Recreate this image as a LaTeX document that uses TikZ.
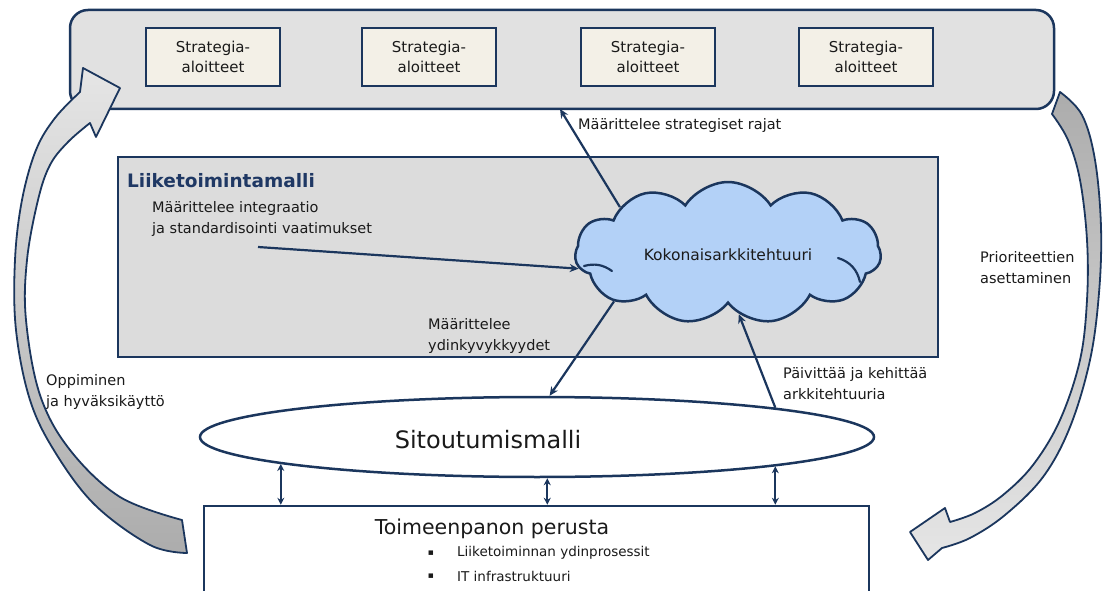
\documentclass[tikz,border=0pt]{standalone}
\usepackage{fontspec}
\setmainfont{DejaVu Sans}
\usetikzlibrary{shapes.geometric,shapes.symbols,arrows.meta}
\definecolor{navy}{HTML}{1B365D}
\definecolor{titleblue}{HTML}{1F3864}
\definecolor{panel}{HTML}{E1E1E1}
\definecolor{midpanel}{HTML}{DCDCDC}
\definecolor{cream}{HTML}{F3F0E7}
\definecolor{skyblue}{HTML}{B3D1F7}
\definecolor{ink}{HTML}{1A1A1A}
\newcommand{\fs}[2]{\fontsize{#1}{#2}\selectfont}
\begin{document}
\begin{tikzpicture}[x=1pt,y=-1pt,
  stbox/.style={draw=navy, line width=2.5pt, fill=cream, minimum width=134pt,
    minimum height=58pt, align=center, inner sep=0pt, text=ink, font=\fs{15}{20}},
  lbl/.style={inner sep=0pt, align=left, text=ink, font=\fs{14.5}{21}},
  conn/.style={draw=navy, line width=2.2pt, -{Stealth[length=9pt,width=8pt]}},
  dbl/.style={draw=navy, line width=2pt,
    {Stealth[length=7pt,width=7pt]}-{Stealth[length=7pt,width=7pt]}},
  blockarrow/.style={draw=navy, line width=1.8pt, line join=round},
  puffline/.style={draw=navy, line width=2.2pt, line cap=round}
]
\useasboundingbox (0,0) rectangle (1104,591);
\clip (0,0) rectangle (1104,591);
\fill[white] (0,0) rectangle (1104,591);

% strategy panel
\node[draw=navy, line width=2.5pt, fill=panel, rounded corners=18pt,
  minimum width=984pt, minimum height=99pt] (tb) at (562,59.5) {};
\node[stbox] (s1) at (213,57) {Strategia-\\aloitteet};
\node[stbox] (s2) at (429,57) {Strategia-\\aloitteet};
\node[stbox] (s3) at (648,57) {Strategia-\\aloitteet};
\node[stbox] (s4) at (866,57) {Strategia-\\aloitteet};

% business model panel
\node[draw=navy, line width=2.5pt, fill=midpanel,
  minimum width=820pt, minimum height=200pt] (bm) at (528,257) {};
\node[anchor=west, inner sep=0pt, text=titleblue, font=\bfseries\fs{18.5}{22}]
  (bmt) at (127,181) {Liiketoimintamalli};
\node[lbl, anchor=north west] (it) at (152,201)
  {Määrittelee integraatio\\ja standardisointi vaatimukset};

% enterprise architecture cloud
\node[cloud, cloud puffs=11, cloud puff arc=115, aspect=2.1, draw=navy,
  fill=skyblue, line width=2.5pt, minimum width=306pt, minimum height=142pt,
  inner sep=0pt] (cl) at (728,253) {};
% inner folds of the cloud outline
\draw[puffline] (584,266) to[bend left=25] (612,271);
\draw[puffline] (838,258) to[bend left=30] (860,282);
\node[inner sep=0pt, text=ink, font=\fs{15.5}{18}] (clt) at (728,255)
  {Kokonaisarkkitehtuuri};

% engagement model
\node[ellipse, draw=navy, line width=2.5pt, fill=white,
  minimum width=674pt, minimum height=80pt, inner sep=0pt] (sm) at (537,437) {};
\node[inner sep=0pt, text=ink, font=\fs{24}{28}] (smt) at (488,440) {Sitoutumismalli};

% foundation for execution
\node[draw=navy, line width=2.5pt, fill=white,
  minimum width=665pt, minimum height=120pt] (fe) at (536.5,566) {};
\node[inner sep=0pt, text=ink, font=\fs{20.5}{24}] (fet) at (492,529) {Toimeenpanon perusta};
\node[inner sep=0pt, text=ink, font=\fs{9}{12}] (b1) at (431,553) {▪};
\node[inner sep=0pt, text=ink, font=\fs{9}{12}] (b2) at (431,576) {▪};
\node[anchor=west, inner sep=0pt, text=ink, font=\fs{13.5}{16}] (l1) at (457,553)
  {Liiketoiminnan ydinprosessit};
\node[anchor=west, inner sep=0pt, text=ink, font=\fs{13.5}{16}] (l2) at (457,576)
  {IT infrastruktuuri};

% connectors
\coordinate (itstart) at (258,247);
\coordinate (srend) at (560,109);
\draw[conn] (itstart) -- (cl.186);
\draw[conn] (cl.157) -- (srend);
\draw[conn] (cl.203) -- (sm.73);
\draw[conn] (sm.7) -- (cl.280);
\draw[dbl] (sm.186) -- (sm.186 |- fe.north);
\draw[dbl] (sm.284) -- (sm.284 |- fe.north);
\draw[dbl] (sm.353.8) -- (sm.353.8 |- fe.north);

\node[lbl, anchor=west] (srl) at (578,126) {Määrittelee strategiset rajat};
\node[lbl, anchor=north west] (ydl) at (428,318) {Määrittelee\\ydinkyvykkyydet};
\node[lbl, anchor=north west] (pvl) at (783,367) {Päivittää ja kehittää\\arkkitehtuuria};
\node[lbl, anchor=north west] (prl) at (980,251) {Prioriteettien\\asettaminen};
\node[lbl, anchor=north west] (opl) at (46,374) {Oppiminen\\ja hyväksikäyttö};

% learning loop arrow (left)
\draw[blockarrow, top color=gray!20, bottom color=gray!65]
  plot[smooth, tension=0.6] coordinates {(187,553) (150,545) (95,505) (55,452)
    (30,400) (16,330) (15,260) (22,200) (36,150) (55,118) (80,92)}
  -- (83,68) -- (120,88) -- (96,137) --
  plot[smooth, tension=0.6] coordinates {(90,123) (68,142) (50,165) (38,200)
    (27,260) (26,320) (40,395) (70,450) (120,497) (182,520)}
  -- cycle;

% prioritisation arrow (right)
\draw[blockarrow, top color=gray!65, bottom color=gray!20]
  plot[smooth, tension=0.6] coordinates {(1060,92) (1082,115) (1095,160)
    (1101,227) (1099,293) (1090,360) (1070,427) (1043,477) (1005,515)
    (970,538) (942,548)}
  -- (928,560) -- (910,532) -- (945,508) --
  plot[smooth, tension=0.6] coordinates {(950,522) (975,513) (1003,495)
    (1033,465) (1060,420) (1080,360) (1087,300) (1087,240) (1080,180)
    (1068,140) (1052,114)}
  -- cycle;
\end{tikzpicture}
\end{document}
